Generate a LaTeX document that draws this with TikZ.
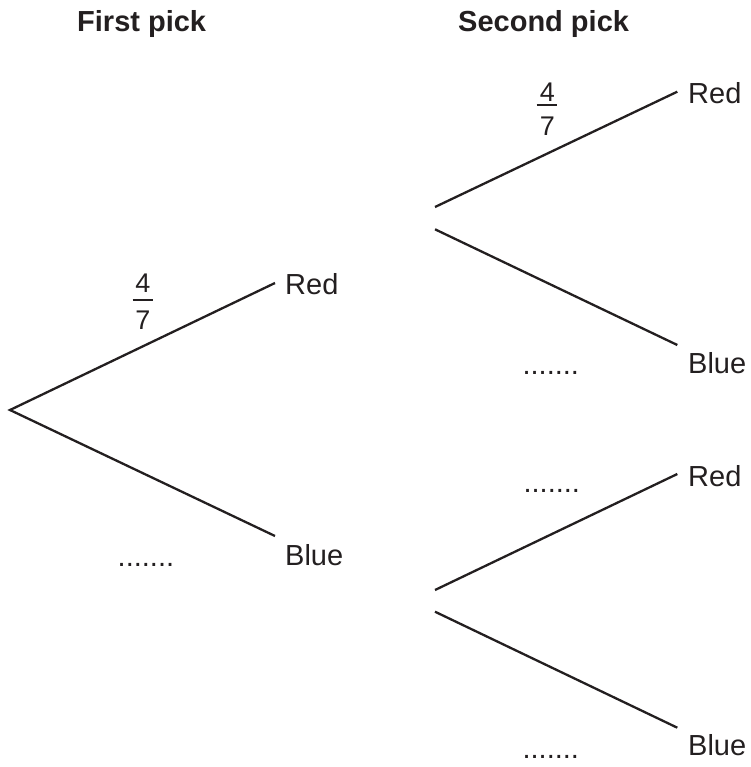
\documentclass[tikz,border=0pt]{standalone}
\usepackage{fontspec}
\setmainfont{Liberation Sans}
\definecolor{ink}{HTML}{231F20}
\begin{document}
\begin{tikzpicture}[x=1pt,y=-1pt,
  branch/.style={line width=2.3pt, draw=ink},
  outcome/.style={anchor=west, inner sep=0pt, font=\fontsize{29}{29}\selectfont, text=ink, text height=20.8pt, text depth=0pt},
  header/.style={anchor=base west, inner sep=0pt, font=\fontsize{29}{29}\selectfont\bfseries, text=ink},
  blank/.style={anchor=base west, inner sep=0pt, font=\fontsize{29}{29}\selectfont, text=ink},
  digit/.style={inner sep=0pt, font=\fontsize{27}{27}\selectfont, text=ink, text height=19.3pt, text depth=0pt},
  fracbar/.style={line width=1.8pt, draw=ink}]
\useasboundingbox (0,0) rectangle (750,767);

% headers
\node[header] (h1) at (77,31.7) {First pick};
\node[header] (h2) at (458,31.7) {Second pick};

% first pick
\coordinate (root) at (10,410);
\coordinate (e1r) at (275,283);
\coordinate (e1b) at (275,536);
\draw[branch] (e1r) -- (root) -- (e1b);
\node[outcome] (red1) at (285,283.7) {Red};
\node[outcome] (blue1) at (285,555) {Blue};
\node[digit] (f1n) at (143,283) {4};
\node[digit] (f1d) at (143,320) {7};
\coordinate (f1l) at (132.7,300);
\coordinate (f1r) at (153.3,300);
\draw[fracbar] (f1l) -- (f1r);
\node[blank] (d1) at (117.5,566.5) {.......};

% second pick, upper
\coordinate (s1) at (435,207);
\coordinate (s2) at (435,229.3);
\coordinate (e2r) at (677.3,91.7);
\coordinate (e2b) at (677.3,345);
\draw[branch] (s1) -- (e2r);
\draw[branch] (s2) -- (e2b);
\node[outcome] (red2) at (688,93) {Red};
\node[outcome] (blue2) at (688,363.3) {Blue};
\node[digit] (f2n) at (547.3,91.7) {4};
\node[digit] (f2d) at (547.3,126) {7};
\coordinate (f2l) at (536.7,105.3);
\coordinate (f2r) at (557.3,105.3);
\draw[fracbar] (f2l) -- (f2r);
\node[blank] (d2) at (522.4,374.8) {.......};

% second pick, lower
\coordinate (s3) at (435,590);
\coordinate (s4) at (435,611.7);
\coordinate (e3r) at (677.3,474);
\coordinate (e3b) at (677.3,727.7);
\draw[branch] (s3) -- (e3r);
\draw[branch] (s4) -- (e3b);
\node[outcome] (red3) at (688,476.3) {Red};
\node[outcome] (blue3) at (688,745) {Blue};
\node[blank] (d3) at (523.4,492.2) {.......};
\node[blank] (d4) at (522.4,758) {.......};
\end{tikzpicture}
\end{document}
